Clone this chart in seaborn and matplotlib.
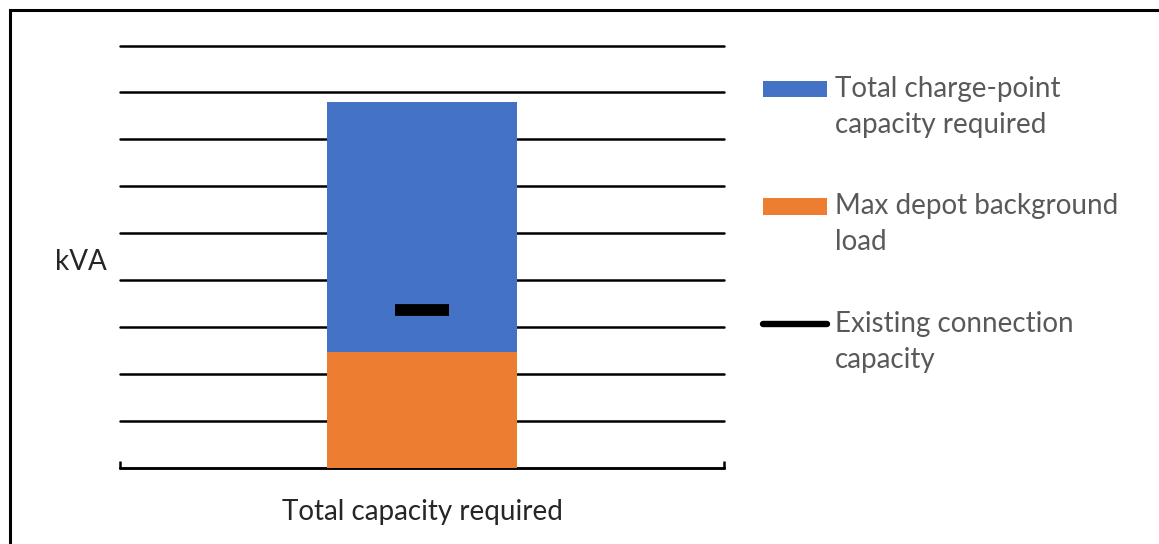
import matplotlib
matplotlib.use("Agg")
import matplotlib.pyplot as plt
from matplotlib.patches import Patch, Rectangle
from matplotlib.lines import Line2D
from matplotlib.legend_handler import HandlerBase
import seaborn as sns
import pandas as pd

# Capacity figures (kVA, schematic units)
categories = ["Total capacity required"]
background_load = [2.47]          # max depot background load
charge_point_capacity = [5.33]    # charge-point capacity stacked on top
existing_connection = [3.37]      # existing connection capacity

series_labels = [
    "Total charge-point\ncapacity required",
    "Max depot background\nload",
    "Existing connection\ncapacity",
]

BLUE = "#4472C4"
ORANGE = "#ED7D31"
TEXT_GREY = "#595959"
FS = 20

sns.set_theme(style="white")
plt.rcParams["font.family"] = ["Lato", "DejaVu Sans"]

df = pd.DataFrame({
    "category": categories,
    "background": background_load,
    "total": [b + c for b, c in zip(background_load, charge_point_capacity)],
    "existing": existing_connection,
})

fig = plt.figure(figsize=(11.59, 5.44), dpi=100)
ax = fig.add_axes([120 / 1159, 76 / 544, 604 / 1159, 422.5 / 544])

bar_width = 0.315
sns.barplot(data=df, x="category", y="total", color=BLUE, width=bar_width,
            saturation=1, ax=ax, zorder=2)
sns.barplot(data=df, x="category", y="background", color=ORANGE, width=bar_width,
            saturation=1, ax=ax, zorder=3)
for p in ax.patches:
    p.set_edgecolor("none")

# Existing connection capacity marker
marker_w = 0.088
ax.hlines(df["existing"], [i - marker_w / 2 for i in range(len(df))],
          [i + marker_w / 2 for i in range(len(df))],
          color="black", lw=8.5, zorder=4)

ax.set_xlim(-0.5, 0.5)
ax.set_ylim(0, 9)
ax.set_yticks(range(0, 10))
ax.yaxis.grid(True, color="black", lw=1.8)
ax.set_axisbelow(True)
for gl in ax.yaxis.get_gridlines():
    gl.set_clip_on(False)
ax.tick_params(axis="y", length=0, labelleft=False)

for side in ["top", "right", "left"]:
    ax.spines[side].set_visible(False)
ax.spines["bottom"].set_color("black")
ax.spines["bottom"].set_linewidth(1.8)

ax.tick_params(axis="x", which="major", length=0, pad=22.5,
               labelsize=FS, labelcolor="#262626")
ax.set_xticks([-0.5, 0.5], minor=True)
ax.tick_params(axis="x", which="minor", direction="in", length=5,
               width=1.8, color="black", bottom=True)
ax.set_xlabel("")

ax.set_ylabel("kVA", rotation=0, fontsize=FS, color="#262626")
ax.yaxis.set_label_coords(-0.065, 0.487)
ax.yaxis.label.set_verticalalignment("center")
ax.yaxis.label.set_horizontalalignment("center")


class FirstLineHandler(HandlerBase):
    """Legend key aligned with the first line of a two-line label."""

    def __init__(self, shift, **kw):
        super().__init__(**kw)
        self.shift = shift

    def create_artists(self, legend, orig_handle, xdescent, ydescent,
                       width, height, fontsize, trans):
        y0 = -ydescent + self.shift
        if isinstance(orig_handle, Line2D):
            yc = y0 + height / 2
            art = Line2D([-xdescent, -xdescent + width], [yc, yc],
                         color=orig_handle.get_color(),
                         lw=orig_handle.get_linewidth(),
                         solid_capstyle="round")
        else:
            art = Rectangle((-xdescent, y0), width, height,
                            facecolor=orig_handle.get_facecolor(),
                            edgecolor="none")
        art.set_transform(trans)
        return [art]


handles = [
    Patch(facecolor=BLUE, edgecolor="none"),
    Patch(facecolor=ORANGE, edgecolor="none"),
    Line2D([0], [0], color="black", lw=4.6),
]
hmap = {h: FirstLineHandler(13.3) for h in handles}
leg = fig.legend(handles, series_labels, loc="upper left",
                 bbox_to_anchor=(763 / 1159, 1 - 76 / 544),
                 frameon=False, fontsize=FS, labelcolor=TEXT_GREY,
                 handlelength=2.3, handleheight=0.54, handletextpad=0.29,
                 labelspacing=2.0, borderpad=0, borderaxespad=0,
                 handler_map=hmap)
for t in leg.get_texts():
    t.set_linespacing(1.47)

# Outer frame
fig.patches.append(Rectangle((10 / 1159, -0.1), 1.2, (544 - 10.5) / 544 + 0.1,
                             transform=fig.transFigure, fill=False,
                             edgecolor="black", lw=2.2, zorder=10))

fig.savefig("out.png", dpi=100)
